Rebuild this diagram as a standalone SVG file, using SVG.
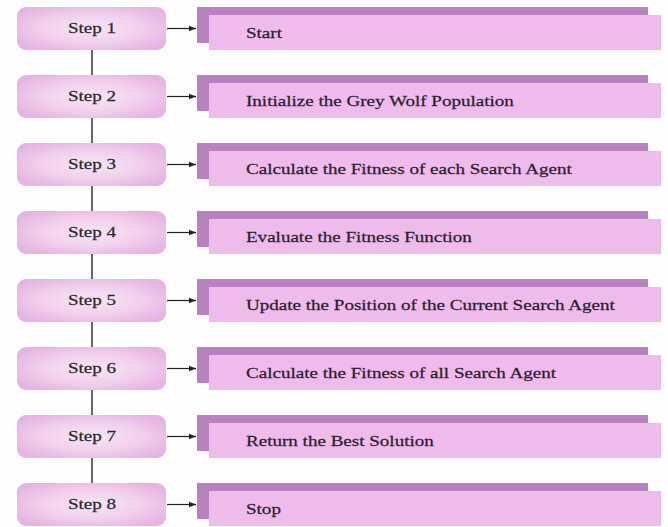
<svg xmlns="http://www.w3.org/2000/svg" width="668" height="527" viewBox="0 0 668 527">
<defs>
<radialGradient id="g" cx="50%" cy="50%" r="60%">
<stop offset="0" stop-color="#f8e6f5"/>
<stop offset="0.6" stop-color="#f0cdec"/>
<stop offset="1" stop-color="#e6b3e2"/>
</radialGradient>
<marker id="ah" viewBox="0 0 10 10" refX="10" refY="5" markerWidth="7" markerHeight="7" markerUnits="userSpaceOnUse" orient="auto">
<path d="M0,1 L10,5 L0,9 z" fill="#222"/>
</marker>
<style>
.step{fill:url(#g)}
.st{font-family:"Liberation Serif","Times New Roman",serif;font-size:15.5px;fill:#2a2a2a;stroke:#2a2a2a;stroke-width:0.25;text-anchor:middle;dominant-baseline:central}
.dk{fill:#b881c0}
.lt{fill:#edbcea}
.tx{font-family:"Liberation Serif","Times New Roman",serif;font-size:15.5px;fill:#2a1f2a;stroke:#2a1f2a;stroke-width:0.25;dominant-baseline:central}
.ln{stroke:#333;stroke-width:1.5;fill:none}
.ar{stroke:#222;stroke-width:1.2;fill:none;marker-end:url(#ah)}
</style>
</defs>
<rect width="668" height="527" fill="#fefdfe"/>
<g id="connectors">
<line class="ln" x1="92" y1="50" x2="92" y2="75"/>
<line class="ln" x1="92" y1="118" x2="92" y2="143"/>
<line class="ln" x1="92" y1="186" x2="92" y2="211"/>
<line class="ln" x1="92" y1="254" x2="92" y2="279"/>
<line class="ln" x1="92" y1="322" x2="92" y2="347"/>
<line class="ln" x1="92" y1="390" x2="92" y2="415"/>
<line class="ln" x1="92" y1="458" x2="92" y2="483"/>
<line class="ar" x1="167" y1="28.5" x2="196" y2="28.5"/>
<line class="ar" x1="167" y1="96.5" x2="196" y2="96.5"/>
<line class="ar" x1="167" y1="164.5" x2="196" y2="164.5"/>
<line class="ar" x1="167" y1="232.5" x2="196" y2="232.5"/>
<line class="ar" x1="167" y1="300.5" x2="196" y2="300.5"/>
<line class="ar" x1="167" y1="368.5" x2="196" y2="368.5"/>
<line class="ar" x1="167" y1="436.5" x2="196" y2="436.5"/>
<line class="ar" x1="167" y1="504.5" x2="196" y2="504.5"/>
</g>
<g id="step1"><rect class="step" x="17" y="7" width="149" height="43" rx="9"/><text class="st" transform="scale(1.23,1)" x="74.8" y="28.5">Step 1</text></g>
<g id="step2"><rect class="step" x="17" y="75" width="149" height="43" rx="9"/><text class="st" transform="scale(1.23,1)" x="74.8" y="96.5">Step 2</text></g>
<g id="step3"><rect class="step" x="17" y="143" width="149" height="43" rx="9"/><text class="st" transform="scale(1.23,1)" x="74.8" y="164.5">Step 3</text></g>
<g id="step4"><rect class="step" x="17" y="211" width="149" height="43" rx="9"/><text class="st" transform="scale(1.23,1)" x="74.8" y="232.5">Step 4</text></g>
<g id="step5"><rect class="step" x="17" y="279" width="149" height="43" rx="9"/><text class="st" transform="scale(1.23,1)" x="74.8" y="300.5">Step 5</text></g>
<g id="step6"><rect class="step" x="17" y="347" width="149" height="43" rx="9"/><text class="st" transform="scale(1.23,1)" x="74.8" y="368.5">Step 6</text></g>
<g id="step7"><rect class="step" x="17" y="415" width="149" height="43" rx="9"/><text class="st" transform="scale(1.23,1)" x="74.8" y="436.5">Step 7</text></g>
<g id="step8"><rect class="step" x="17" y="483" width="149" height="43" rx="9"/><text class="st" transform="scale(1.23,1)" x="74.8" y="504.5">Step 8</text></g>
<g id="box1"><rect class="dk" x="197" y="7" width="451" height="36"/><rect class="lt" x="209" y="15" width="452" height="35"/><text class="tx" transform="scale(1.23,1)" x="200" y="33">Start</text></g>
<g id="box2"><rect class="dk" x="197" y="75" width="451" height="36"/><rect class="lt" x="209" y="83" width="452" height="35"/><text class="tx" transform="scale(1.23,1)" x="200" y="101">Initialize the Grey Wolf Population</text></g>
<g id="box3"><rect class="dk" x="197" y="143" width="451" height="36"/><rect class="lt" x="209" y="151" width="452" height="35"/><text class="tx" transform="scale(1.23,1)" x="200" y="169">Calculate the Fitness of each Search Agent</text></g>
<g id="box4"><rect class="dk" x="197" y="211" width="451" height="36"/><rect class="lt" x="209" y="219" width="452" height="35"/><text class="tx" transform="scale(1.23,1)" x="200" y="237">Evaluate the Fitness Function</text></g>
<g id="box5"><rect class="dk" x="197" y="279" width="451" height="36"/><rect class="lt" x="209" y="287" width="452" height="35"/><text class="tx" transform="scale(1.23,1)" x="200" y="305">Update the Position of the Current Search Agent</text></g>
<g id="box6"><rect class="dk" x="197" y="347" width="451" height="36"/><rect class="lt" x="209" y="355" width="452" height="35"/><text class="tx" transform="scale(1.23,1)" x="200" y="373">Calculate the Fitness of all Search Agent</text></g>
<g id="box7"><rect class="dk" x="197" y="415" width="451" height="36"/><rect class="lt" x="209" y="423" width="452" height="35"/><text class="tx" transform="scale(1.23,1)" x="200" y="441">Return the Best Solution</text></g>
<g id="box8"><rect class="dk" x="197" y="483" width="451" height="36"/><rect class="lt" x="209" y="491" width="452" height="35"/><text class="tx" transform="scale(1.23,1)" x="200" y="509">Stop</text></g>
</svg>
